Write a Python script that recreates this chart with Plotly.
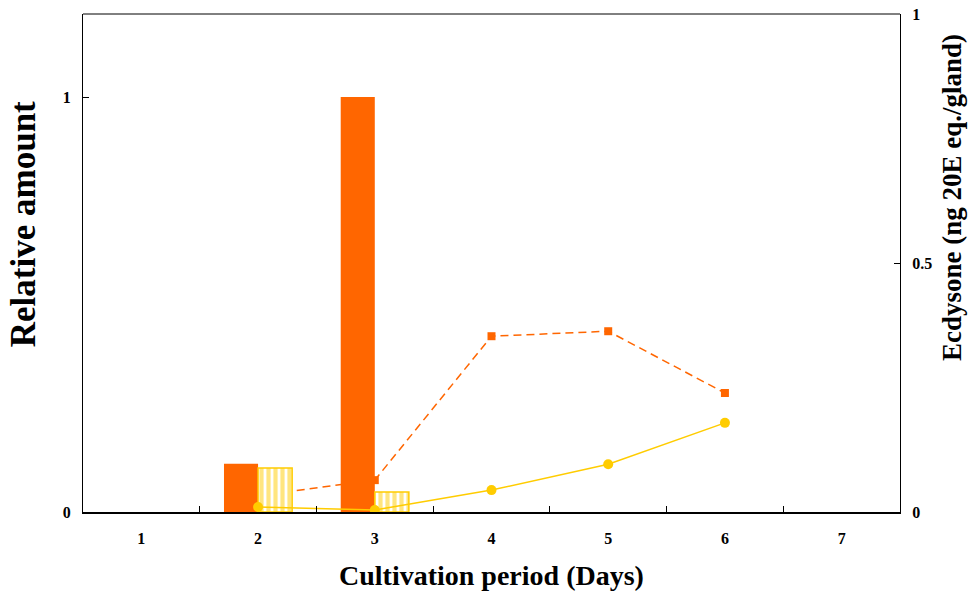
import plotly.graph_objects as go

# Cultivation days (category axis)
days = ["1", "2", "3", "4", "5", "6", "7"]

# Relative amounts (left axis, bars)
bar_days = ["2", "3"]
rel_orange = [0.116, 1.0]
rel_yellow = [0.106, 0.048]

# Ecdysone titres (right axis, lines)
line_days = ["2", "3", "4", "5", "6"]
ecd_orange = [0.033, 0.064, 0.353, 0.363, 0.239]
ecd_yellow = [0.010, 0.004, 0.044, 0.096, 0.179]

ORANGE = "#FF6600"
YELLOW = "#FFCC00"
FONT = "Liberation Serif"

fig = go.Figure()

# dashed orange ecdysone line (bottom layer)
fig.add_trace(go.Scatter(
    x=line_days, y=ecd_orange, yaxis="y", mode="lines+markers",
    line=dict(color=ORANGE, width=1.5, dash="8px,5px"),
    marker=dict(symbol="square", size=8, color=ORANGE),
    showlegend=False,
))

# relative amount bars
fig.add_trace(go.Bar(
    x=bar_days, y=rel_orange, yaxis="y2",
    marker=dict(color=ORANGE, line=dict(color=ORANGE, width=0)),
    showlegend=False,
))
fig.add_trace(go.Bar(
    x=bar_days, y=rel_yellow, yaxis="y2",
    marker=dict(
        color="white",
        line=dict(color=YELLOW, width=1.5),
        pattern=dict(shape="|", fgcolor=YELLOW, bgcolor="white",
                     size=7, solidity=0.6, fillmode="overlay"),
    ),
    showlegend=False,
))

# solid yellow ecdysone line (top layer)
fig.add_trace(go.Scatter(
    x=line_days, y=ecd_yellow, yaxis="y3", mode="lines+markers",
    line=dict(color=YELLOW, width=1.5),
    marker=dict(symbol="circle", size=10, color=YELLOW),
    showlegend=False,
))

tickfont = dict(family=FONT, size=16, color="black", weight="bold")

fig.update_layout(
    width=978, height=597,
    margin=dict(l=83, r=78, t=14, b=85, autoexpand=False),
    paper_bgcolor="white", plot_bgcolor="white",
    barmode="group", bargap=0.416, bargroupgap=0,
    xaxis=dict(
        type="category", categoryorder="array", categoryarray=days,
        range=[-0.5, 6.5], tickson="boundaries",
        ticks="inside", ticklen=6, tickcolor="black", tickwidth=1,
        showline=True, linecolor="black", linewidth=2,
        showgrid=False, zeroline=False, automargin=False,
        tickfont=tickfont, ticklabelstandoff=11,
    ),
    yaxis=dict(
        side="right", range=[0, 1],
        tickvals=[0, 0.5, 1], ticktext=["0", "0.5", "1"],
        ticks="inside", ticklen=6, tickcolor="black",
        showline=True, linecolor="black", linewidth=1,
        showgrid=False, zeroline=False, automargin=False,
        tickfont=tickfont, ticklabelstandoff=8,
    ),
    yaxis2=dict(
        side="left", overlaying="y", range=[0, 1.2],
        tickvals=[0, 1], ticktext=["0", "1"],
        ticks="inside", ticklen=6, tickcolor="black",
        showline=True, linecolor="black", linewidth=1,
        showgrid=False, zeroline=False, automargin=False,
        tickfont=tickfont, ticklabelstandoff=8,
    ),
    yaxis3=dict(overlaying="y", range=[0, 1], visible=False),
    shapes=[dict(type="line", xref="paper", yref="paper",
                 x0=0, x1=1, y0=1, y1=1,
                 line=dict(color="black", width=1))],
    annotations=[
        dict(text="<b>Relative amount</b>", xref="paper", yref="paper",
             x=-0.0734, y=0.578, xanchor="center", yanchor="middle",
             textangle=-90, showarrow=False,
             font=dict(family=FONT, size=35, color="black")),
        dict(text="<b>Ecdysone (ng 20E eq./gland)</b>", xref="paper", yref="paper",
             x=1.0636, y=0.6325, xanchor="center", yanchor="middle",
             textangle=-90, showarrow=False,
             font=dict(family=FONT, size=27, color="black")),
        dict(text="<b>Cultivation period (Days)</b>", xref="paper", yref="paper",
             x=0.5, y=-0.1285, xanchor="center", yanchor="middle",
             showarrow=False,
             font=dict(family=FONT, size=28, color="black")),
    ],
)

fig.write_html("out.html")
